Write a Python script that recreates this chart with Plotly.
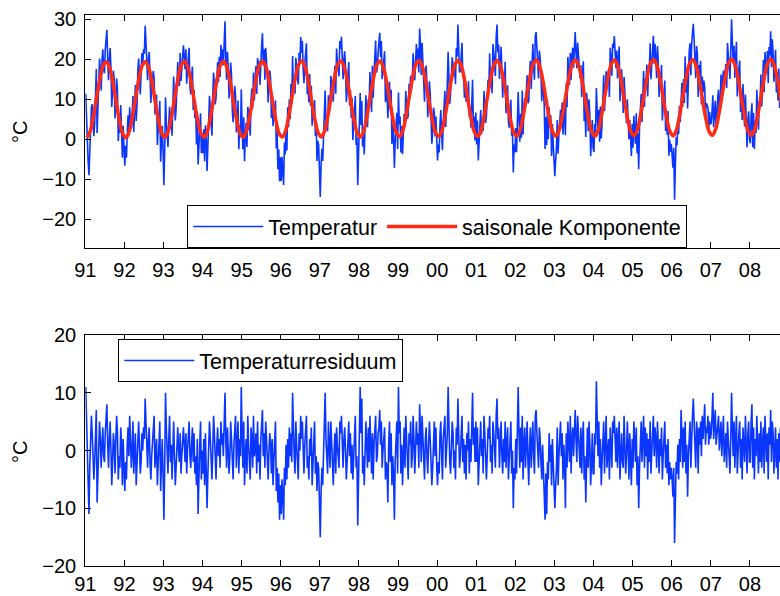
import plotly.graph_objects as go

# Zeitachse: Jahre 1991-2008, Tick-Beschriftung zweistellig
jahre = list(range(1991, 2009))
jahr_labels = ["91", "92", "93", "94", "95", "96", "97", "98", "99",
               "00", "01", "02", "03", "04", "05", "06", "07", "08"]

start_jahr = 1991
werte_pro_jahr = 48      # Residuum: 4 Werte je Monat
monate_pro_jahr = 12     # saisonale Komponente: Monatswerte

# saisonale Komponente (°C), Monatsmittel Jan..Dez je Jahr
saison = [
    0.4, 2.0, 5.8, 10.6, 15.2, 18.5, 19.4, 17.8, 14.1, 9.2, 4.6, 1.4,   # 1991
    0.4, 2.0, 5.8, 10.6, 15.2, 18.5, 19.4, 17.8, 14.1, 9.2, 4.6, 1.4,   # 1992
    0.5, 2.1, 5.9, 10.7, 15.3, 18.6, 19.5, 17.9, 14.2, 9.3, 4.7, 1.5,   # 1993
    0.5, 2.1, 5.9, 10.7, 15.3, 18.6, 19.5, 17.9, 14.2, 9.3, 4.7, 1.5,   # 1994
    0.5, 2.1, 5.9, 10.7, 15.3, 18.6, 19.5, 17.9, 14.2, 9.3, 4.7, 1.5,   # 1995
    0.6, 2.2, 6.0, 10.8, 15.4, 18.7, 19.6, 18.0, 14.3, 9.4, 4.8, 1.6,   # 1996
    0.6, 2.2, 6.0, 10.8, 15.4, 18.7, 19.6, 18.0, 14.3, 9.4, 4.8, 1.6,   # 1997
    0.6, 2.2, 6.0, 10.8, 15.4, 18.7, 19.6, 18.0, 14.3, 9.4, 4.8, 1.6,   # 1998
    0.7, 2.3, 6.1, 10.9, 15.5, 18.8, 19.7, 18.1, 14.4, 9.5, 4.9, 1.7,   # 1999
    0.7, 2.3, 6.1, 10.9, 15.5, 18.8, 19.7, 18.1, 14.4, 9.5, 4.9, 1.7,   # 2000
    0.7, 2.3, 6.1, 10.9, 15.5, 18.8, 19.7, 18.1, 14.4, 9.5, 4.9, 1.7,   # 2001
    0.8, 2.4, 6.2, 11.0, 15.6, 18.9, 19.8, 18.2, 14.5, 9.6, 5.0, 1.8,   # 2002
    0.8, 2.4, 6.2, 11.0, 15.6, 18.9, 19.8, 18.2, 14.5, 9.6, 5.0, 1.8,   # 2003
    0.8, 2.4, 6.2, 11.0, 15.6, 18.9, 19.8, 18.2, 14.5, 9.6, 5.0, 1.8,   # 2004
    0.9, 2.5, 6.3, 11.1, 15.7, 19.0, 19.9, 18.3, 14.6, 9.7, 5.1, 1.9,   # 2005
    0.9, 2.5, 6.3, 11.1, 15.7, 19.0, 19.9, 18.3, 14.6, 9.7, 5.1, 1.9,   # 2006
    1.0, 2.6, 6.4, 11.2, 15.8, 19.1, 20.0, 18.4, 14.7, 9.8, 5.2, 2.0,   # 2007
    1.0, 2.6, 6.4, 11.2, 15.8, 19.1, 20.0, 18.4, 14.7, 9.8, 5.2, 2.0,   # 2008
]

# Temperaturresiduum (°C), 48 Werte je Jahr
residuum = [
    # 1991
    11, 4, -2, -6, -11, -3, 1, 6, 3, -1, -5, -2,
    2, 7, -9, -4, 0, 5, 2, -3, 1, 4, -1, -2,
    3, 6, 8, 1, -3, 2, 5, 0, -6, -2, 3, 1,
    -4, 2, 6, 3, -5, -1, -3, 4, 1, -6, 2, -3,
    # 1992
    -7, -2, -5, 1, 4, -1, 6, 2, -3, 0, 5, -4,
    -1, 3, -6, -2, 2, 5, 1, -4, -2, 3, 0, 4,
    2, 9, 5, -1, -3, 2, 4, -2, -5, -1, 1, 3,
    6, -3, 0, 2, -6, -2, 3, 5, -7, -1, 2, -4,
    # 1993
    -12, -3, 10, 4, -1, -4, 2, 6, -2, 1, -5, 3,
    5, -1, -6, -3, 2, 4, 0, -2, 3, -4, -1, 2,
    4, 1, -2, 3, -4, 0, 2, 5, -1, -3, 1, 4,
    -2, 3, -4, -1, -6, 2, -11, -3, 1, 5, -5, 0,
    # 1994
    -4, 2, -6, 3, -2, -10, -4, 1, 5, 2, -1, -5,
    0, 6, 3, -2, -5, 1, 4, -1, 2, -3, 5, 1,
    3, -1, 6, 10, 2, -3, 4, 0, -4, -1, 5, 2,
    -2, -5, 1, 4, 6, -3, 0, 5, -4, 2, -1, 11,
    # 1995
    3, -3, 5, -6, -1, 2, -4, 6, 1, -2, -5, 4,
    2, -3, 6, -1, 0, 3, -4, 5, -2, 1, -5, 2,
    4, 7, -1, 3, -3, 5, 2, -2, -5, 0, 3, 1,
    -4, 2, -6, -2, 1, 5, -7, -3, -9, -4, -12, -6,
    # 1996
    -11, -5, -8, -12, -3, -6, 1, -5, 2, -3, 4, -1,
    3, -2, 10, 2, -1, -4, 5, 1, -3, -5, 3, 0,
    6, 2, 5, -2, -4, 1, 3, 6, -3, -1, -5, 2,
    -1, 4, -6, -2, 1, 5, -4, -1, -7, -2, -3, -8,
    # 1997
    -15, -7, -3, -6, -1, 4, 10, 2, -2, -4, 5, 1,
    -3, 5, 2, -1, -6, 0, 3, -4, 4, 1, -2, -3,
    5, 3, 6, -1, -3, 2, 4, 0, -5, -2, 2, 5,
    -1, 3, -4, 1, -5, -2, 2, 6, -3, -1, -13, -5,
    # 1998
    2, 11, 3, 9, -4, -1, -6, 2, 5, 1, -3, 4,
    -2, 6, 0, -4, 3, -5, 1, 4, 6, -2, -1, 3,
    4, 7, 1, 5, -3, 0, 2, 4, -5, -2, -3, -9,
    1, 5, -2, 3, -6, -1, -4, -12, -2, 3, 5, -4,
    # 1999
    11, 3, 5, -4, 1, -6, -2, 4, -3, 6, 2, -1,
    -5, 3, 1, 5, -3, -1, 6, 2, -4, 0, 5, 1,
    3, -3, 8, 4, -2, 6, 1, -3, -5, 2, 4, -1,
    -4, 1, 5, 2, -2, -6, -3, 3, 5, -1, 4, -3,
    # 2000
    -6, -2, -4, 3, 5, -1, -5, 2, 4, 6, -3, 1,
    3, 11, 2, -2, -4, 1, 5, 3, -3, 0, -5, 4,
    1, 9, 3, -3, -1, 4, 6, -2, 2, -4, 1, -5,
    3, 0, 5, -4, 2, -2, 6, 10, 1, 4, -2, 5,
    # 2001
    -2, 4, -6, -3, 1, 5, -1, 2, -4, 6, 3, -2,
    -5, -1, 4, 2, 6, -2, 1, -4, 5, 3, -1, -3,
    6, 9, 2, 4, -3, 1, 5, -1, -4, 2, -2, 5,
    -3, 1, 4, -5, -2, 3, 5, -4, 0, -10, -3, -5,
    # 2002
    2, -4, 5, 11, 3, -3, 4, -2, 6, -5, 1, 4,
    -3, 2, 5, -2, -6, 1, 4, -3, 2, 5, -1, -4,
    6, 7, 3, -1, -3, 4, 2, -2, -5, 1, -3, -6,
    -12, -4, -11, -2, -5, 3, -2, 1, -6, 2, -3, -8,
    # 2003
    -10, -6, -3, 4, -6, -1, 2, 5, -1, 3, -5, 1,
    -2, -10, 3, -3, 5, 1, -2, 6, -4, 2, 4, -1,
    5, 7, 2, -2, 6, 3, -1, -3, 4, -4, 2, 5,
    -5, -1, -9, 2, 4, -3, 5, 1, -6, -2, 3, -4,
    # 2004
    -4, 3, 1, 12, 4, -1, 5, -3, 2, -6, -2, 4,
    5, -4, 1, 6, -3, -1, 2, -5, 4, 1, -3, 5,
    3, 6, 1, -2, 4, -3, 2, 5, -5, -1, 3, -2,
    -3, 6, 2, -4, -1, 5, 1, -5, 3, -2, -6, 2,
    # 2005
    -3, 5, 2, -2, 4, -6, -1, -10, -3, 2, 5, -2,
    1, 6, -3, 4, -1, 3, -5, 2, -2, 5, -4, 1,
    3, 6, -1, 4, 2, -3, 5, 1, -4, 2, -1, 4,
    -5, -1, 3, 5, -3, 1, -4, 2, -6, -2, -5, -3,
    # 2006
    -5, -8, -3, -16, -9, -2, -4, 1, -5, 2, -2, 7,
    3, -3, 4, -2, 5, -4, 1, -8, -1, 3, 5, -3,
    4, 6, 9, 5, 2, -3, 5, 3, -4, 4, 1, 5,
    -1, 6, 2, 5, 8, 1, 4, 3, 6, 1, 5, 2,
    # 2007
    3, 6, 10, 2, 5, 7, 1, 3, 4, 6, 0, 2,
    5, -1, 4, 6, -2, 1, 3, -3, 5, 2, -2, -4,
    2, 10, 4, -1, 5, -3, 2, 6, -4, 1, 3, 5,
    -3, 2, -5, 4, 1, -2, 6, -3, -4, 3, 5, -2,
    # 2008
    -2, 5, 8, -3, 4, -5, 2, -1, 6, 1, -4, 3,
    -2, 5, -3, 1, 4, -4, 6, 2, -2, 3, -5, 4,
    1, 7, -2, 5, 3, -4, 1, 4, -3, 2, -5, 3,
    -2, 4, -4, 1, 3,
]

# Zeitpunkte (Jahresbruchteile) der Werte
t_res = [start_jahr + (i + 0.5) / werte_pro_jahr for i in range(len(residuum))]
t_saison = [start_jahr + (m + 0.5) / monate_pro_jahr for m in range(len(saison))]

# Temperatur = saisonale Komponente (Monatswert) + Residuum
werte_pro_monat = werte_pro_jahr // monate_pro_jahr
temperatur = [saison[i // werte_pro_monat] + r for i, r in enumerate(residuum)]

BLAU = "#0a36ff"
ROT = "#ff2a12"
FONT = "Liberation Sans, Arial, Helvetica, sans-serif"

W, H = 780, 596

fig = go.Figure()

fig.add_trace(go.Scatter(
    x=t_res, y=temperatur, mode="lines", name="Temperatur",
    line=dict(color=BLAU, width=1.6), xaxis="x", yaxis="y", legend="legend",
))
fig.add_trace(go.Scatter(
    x=t_saison, y=saison, mode="lines", name="saisonale Komponente",
    line=dict(color=ROT, width=3.5, shape="spline"), xaxis="x", yaxis="y",
    legend="legend",
))
fig.add_trace(go.Scatter(
    x=t_res, y=residuum, mode="lines", name="Temperaturresiduum",
    line=dict(color=BLAU, width=1.6), xaxis="x2", yaxis="y2", legend="legend2",
))

x_links = 85.3 / W
x_range = [1991, 2008.77]

achse_x = dict(
    range=x_range, domain=[x_links, 1.0], automargin=False,
    tickmode="array", tickvals=jahre, ticktext=jahr_labels,
    ticks="inside", ticklen=6, tickwidth=1, tickcolor="black",
    showline=True, linecolor="black", linewidth=1.2, mirror="allticks",
    showgrid=False, zeroline=False,
    tickfont=dict(family=FONT, size=20, color="black"),
)
achse_y = dict(
    automargin=False,
    ticks="inside", ticklen=6, tickwidth=1, tickcolor="black",
    showline=True, linecolor="black", linewidth=1.2,
    showgrid=False, zeroline=False,
    tickfont=dict(family=FONT, size=20, color="black"),
    ticklabelstandoff=4,
)

legende = dict(
    xanchor="left", yanchor="top", orientation="h",
    bgcolor="white", bordercolor="black", borderwidth=1,
    font=dict(family=FONT, size=21.5, color="black"), itemwidth=70,
)

# untere Achse etwas angehoben, damit die Jahreszahlen ganz im Bild bleiben
unten_oben, unten_unten = 335.0, 566.0

fig.update_layout(
    width=W, height=H,
    margin=dict(l=0, r=0, t=0, b=0, autoexpand=False),
    paper_bgcolor="white", plot_bgcolor="white",
    font=dict(family=FONT, color="black"),
    xaxis=dict(achse_x, anchor="y", ticklabelstandoff=4),
    yaxis=dict(achse_y, anchor="x", domain=[1 - 247.7 / H, 1 - 15.3 / H],
               range=[-27.1, 31], tickvals=[-20, -10, 0, 10, 20, 30]),
    xaxis2=dict(achse_x, anchor="y2", ticklabelstandoff=0),
    yaxis2=dict(achse_y, anchor="x2",
                domain=[1 - unten_unten / H, 1 - unten_oben / H],
                range=[-20, 20], tickvals=[-20, -10, 0, 10, 20]),
    legend=dict(legende, x=187.3 / W, y=1 - 205 / H),
    legend2=dict(legende, x=118.3 / W, y=1 - (unten_oben + 4) / H),
    annotations=[
        dict(text="°C", xref="paper", yref="paper", x=20 / W, y=1 - 132 / H,
             xanchor="center", yanchor="middle",
             showarrow=False, textangle=-90, font=dict(family=FONT, size=20)),
        dict(text="°C", xref="paper", yref="paper", x=20 / W, y=1 - 452 / H,
             xanchor="center", yanchor="middle",
             showarrow=False, textangle=-90, font=dict(family=FONT, size=20)),
    ],
    showlegend=True,
)

fig.write_html("out.html")
